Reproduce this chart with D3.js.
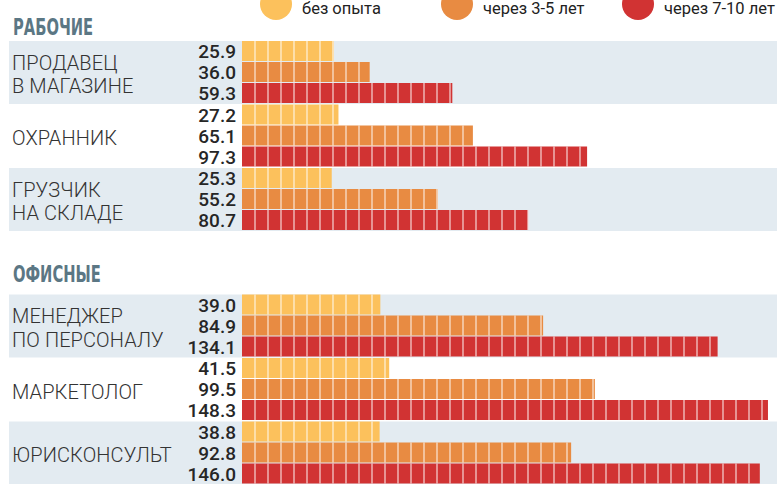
<!DOCTYPE html>
<html>
<head>
<meta charset="utf-8">
<script src="https://cdn.jsdelivr.net/npm/d3@7"></script>
<style>
  body { margin: 0; background: #fff; }
  svg { display: block; }
</style>
</head>
<body>
<svg id="chart" width="777" height="484"></svg>
<script>
// data
const groups = ['РАБОЧИЕ', 'ОФИСНЫЕ'];
const jobs = [
  ['ПРОДАВЕЦ', 'В МАГАЗИНЕ'],
  ['ОХРАННИК'],
  ['ГРУЗЧИК', 'НА СКЛАДЕ'],
  ['МЕНЕДЖЕР', 'ПО ПЕРСОНАЛУ'],
  ['МАРКЕТОЛОГ'],
  ['ЮРИСКОНСУЛЬТ'],
];
const series = ['без опыта', 'через 3-5 лет', 'через 7-10 лет'];
const noExp = [25.9, 27.2, 25.3, 39.0, 41.5, 38.8];
const exp35 = [36.0, 65.1, 55.2, 84.9, 99.5, 92.8];
const exp710 = [59.3, 97.3, 80.7, 134.1, 148.3, 146.0];
const colors = ['#fcc15c', '#e88b42', '#d13333'];

const svg = d3.select('#chart');
const values = [noExp, exp35, exp710];

const x = d3.scaleLinear().domain([0, 150]).range([242, 774]);
const rowTops = [41, 104.5, 168, 294.5, 358, 421.5]; // band tops
const rowH = 63;
const barH = 21;
const seg = 13; // width of one block in the bars

// legend
const legendX = [276, 457, 638];
series.forEach((s, i) => {
  svg.append('circle')
    .attr('cx', legendX[i])
    .attr('cy', 4)
    .attr('r', 16)
    .attr('fill', colors[i]);
  svg.append('text')
    .attr('x', legendX[i] + 26)
    .attr('y', 14)
    .attr('font-family', 'Roboto, sans-serif')
    .attr('font-size', '16.5px')
    .attr('fill', '#222')
    .text(s);
});

// group headers (condensed bold)
const headerY = [35, 282];
groups.forEach((g, i) => {
  svg.append('text')
    .attr('transform', `translate(13,${headerY[i]}) scale(0.64,1)`)
    .attr('font-family', '"DejaVu Sans", sans-serif')
    .attr('font-weight', 'bold')
    .attr('font-size', '23px')
    .attr('fill', '#5b7784')
    .text(g);
});

jobs.forEach((lines, j) => {
  const top = rowTops[j];
  // light band on first and last row of each group
  if (j % 3 !== 1) {
    svg.append('rect')
      .attr('x', 9)
      .attr('y', top)
      .attr('width', 777 - 9)
      .attr('height', rowH)
      .attr('fill', '#e3ebf1');
  }
  // job name
  const mid = top + rowH / 2 + 2;
  lines.forEach((l, k) => {
    svg.append('text')
      .attr('x', 12)
      .attr('y', mid + (k - (lines.length - 1) / 2) * 23.5)
      .attr('dy', '0.36em')
      .attr('font-family', 'Roboto, sans-serif')
      .attr('font-weight', 300)
      .attr('font-size', '20px')
      .attr('letter-spacing', '0.1px')
      .attr('fill', '#333')
      .text(l);
  });
  // bars
  values.forEach((arr, s) => {
    const y0 = top + s * barH;
    const w = x(arr[j]) - x(0);
    svg.append('rect')
      .attr('x', x(0))
      .attr('y', y0)
      .attr('width', w)
      .attr('height', barH - 1)
      .attr('fill', colors[s]);
    // white separators between blocks
    const cuts = d3.range(x(0) + seg, x(arr[j]), seg);
    svg.append('g')
      .selectAll('line')
      .data(cuts)
      .join('line')
      .attr('x1', d => d)
      .attr('x2', d => d)
      .attr('y1', y0)
      .attr('y2', y0 + barH - 1)
      .attr('stroke', '#fff')
      .attr('stroke-opacity', 0.8)
      .attr('stroke-width', 1.2);
    svg.append('text')
      .attr('x', 236)
      .attr('y', y0 + barH / 2)
      .attr('dy', '0.36em')
      .attr('text-anchor', 'end')
      .attr('font-family', 'Roboto, sans-serif')
      .attr('font-weight', 500)
      .attr('font-size', '19px')
      .attr('fill', '#262626')
      .text(arr[j].toFixed(1));
  });
});
</script>
</body>
</html>
